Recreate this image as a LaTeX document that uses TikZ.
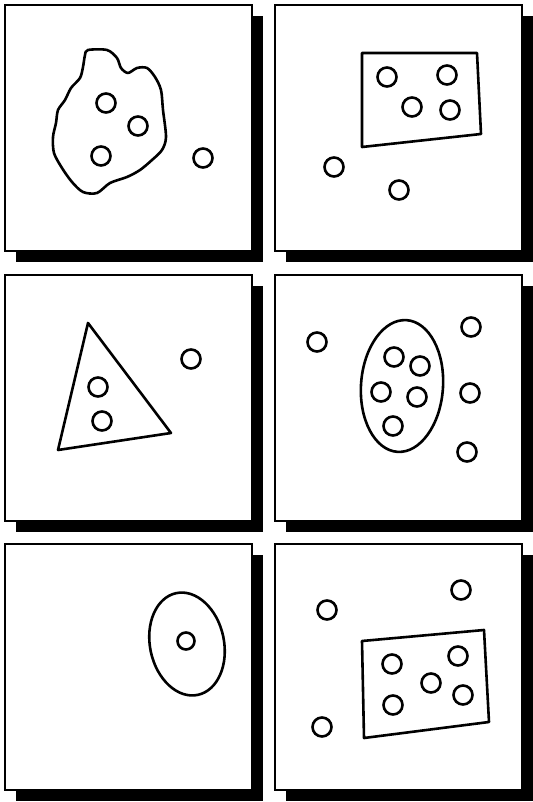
\documentclass[tikz,border=0pt]{standalone}
\begin{document}
\begin{tikzpicture}[x=1pt,y=-1pt,
  panel/.style={draw=black,line width=1.4pt,fill=white},
  shadowbox/.style={fill=black,draw=none},
  outline/.style={draw=black,line width=2.6pt,line join=round},
  dot/.style={circle,draw=black,line width=2.6pt,minimum size=19pt,inner sep=0pt}]
\useasboundingbox (0,0) rectangle (532,802);
% shadows and panels
\foreach \px/\py in {5/5,275/5,5/275,275/275,5/544,275/544}{
  \fill[shadowbox] (\px+11,\py+11) rectangle (\px+258,\py+257);
  \draw[panel] (\px,\py) rectangle (\px+247,\py+246);
}
% panel 1
\draw[outline] plot[smooth cycle,tension=0.5] coordinates{(88,50)(107,50)(117,58)(121,68)(128,73)(137,68)(147,68)(155,77)(161,90)(163,110)(166,137)(162,150)(152,160)(140,170)(127,177)(110,183)(97,193)(83,192)(72,182)(62,168)(54,153)(53,137)(56,123)(58,110)(65,100)(71,88)(80,78)(83,67)(85,55)};
\node[dot] (a1) at (106,103) {};
\node[dot] (a2) at (138,126) {};
\node[dot] (a3) at (101,156) {};
\node[dot] (a4) at (203,158) {};
% panel 2
\draw[outline] (362,53) -- (477,53) -- (481,134) -- (362,147) -- cycle;
\node[dot] (b1) at (387,77) {};
\node[dot] (b2) at (447,75) {};
\node[dot] (b3) at (412,107) {};
\node[dot] (b4) at (450,110) {};
\node[dot] (b5) at (334,167) {};
\node[dot] (b6) at (399,190) {};
% panel 3
\draw[outline] (88,323) -- (171,433) -- (58,450) -- cycle;
\node[dot] (c1) at (98,387) {};
\node[dot] (c2) at (102,421) {};
\node[dot] (c3) at (191,359) {};
% panel 4
\draw[outline] (402,386) ellipse[x radius=41,y radius=66,rotate=-4];
\node[dot] (d1) at (394,357) {};
\node[dot] (d2) at (420,366) {};
\node[dot] (d3) at (381,392) {};
\node[dot] (d4) at (417,397) {};
\node[dot] (d5) at (393,426) {};
\node[dot] (d6) at (317,342) {};
\node[dot] (d7) at (471,327) {};
\node[dot] (d8) at (470,393) {};
\node[dot] (d9) at (467,452) {};
% panel 5
\draw[outline] (187,644) ellipse[x radius=37,y radius=52,rotate=12];
\node[dot,minimum size=17pt] (e1) at (186,641) {};
% panel 6
\draw[outline] (362,641) -- (484,630) -- (489,722) -- (364,738) -- cycle;
\node[dot] (f1) at (327,610) {};
\node[dot] (f2) at (461,590) {};
\node[dot] (f3) at (322,727) {};
\node[dot] (f4) at (392,664) {};
\node[dot] (f5) at (458,656) {};
\node[dot] (f6) at (431,683) {};
\node[dot] (f7) at (393,705) {};
\node[dot] (f8) at (463,695) {};
\end{tikzpicture}
\end{document}
